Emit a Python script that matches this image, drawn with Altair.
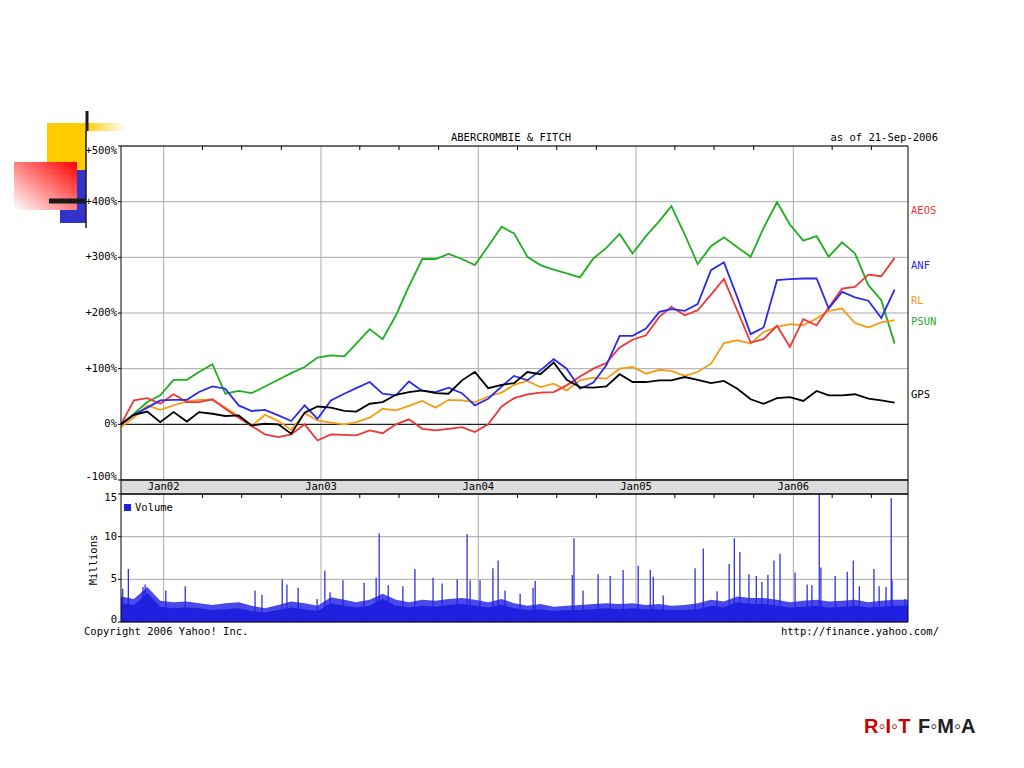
import altair as alt
import pandas as pd

MONO = "DejaVu Sans Mono"

# ---------------- data ----------------
line_dates = pd.date_range("2001-09-24", periods=60, freq=pd.DateOffset(months=1))
series_names = ["PSUN", "RL", "AEOS", "ANF", "GPS"]
series_colors = ["#1fae1f", "#f89c14", "#f03535", "#2b2bef", "#000000"]

psun = [0, 19, 40, 52, 80, 80, 94, 108, 55, 60, 56, 68, 80, 92, 103, 120, 124, 122, 145, 171,
        153, 196, 248, 297, 297, 306, 297, 286, 320, 355, 343, 301, 286, 278, 271, 264, 298, 317, 342, 307,
        338, 365, 392, 341, 288, 320, 336, 318, 301, 353, 399, 359, 330, 338, 301, 327, 307, 250, 223, 145]
rl = [-5, 12, 34, 26, 34, 41, 44, 44, 30, 14, -3, 17, 6, -10, 20, 7, 3, 0, 4, 12,
      28, 25, 33, 42, 30, 44, 43, 40, 50, 57, 71, 78, 67, 73, 61, 79, 84, 82, 100, 103,
      91, 98, 96, 87, 94, 109, 146, 151, 145, 166, 175, 180, 178, 190, 204, 208, 182, 174, 183, 187]
aeos = [0, 43, 47, 37, 54, 40, 40, 45, 28, 12, -3, -18, -23, -18, 0, -29, -18, -19, -20, -11,
        -16, 0, 9, -8, -11, -8, -5, -14, 0, 32, 47, 54, 57, 58, 70, 86, 100, 110, 138, 152,
        160, 193, 211, 196, 205, 233, 261, 204, 147, 153, 177, 139, 189, 178, 210, 244, 247, 269, 266, 299]
anf = [0, 17, 30, 43, 44, 44, 58, 68, 64, 34, 24, 26, 16, 6, 34, 10, 43, 55, 65, 76,
       55, 52, 77, 60, 58, 66, 56, 34, 46, 68, 87, 79, 97, 117, 100, 64, 75, 106, 159, 159,
       172, 202, 207, 204, 216, 277, 291, 228, 162, 174, 259, 261, 262, 262, 208, 238, 228, 222, 191, 242]
gps = [0, 17, 23, 4, 22, 5, 22, 19, 15, 16, -2, 1, 0, -17, 21, 32, 30, 24, 23, 37,
       40, 53, 58, 61, 56, 55, 79, 94, 65, 71, 74, 94, 90, 111, 80, 67, 66, 68, 90, 76,
       76, 79, 79, 85, 80, 74, 78, 64, 45, 37, 47, 49, 42, 60, 52, 52, 54, 46, 43, 39]
series_values = [psun, rl, aeos, anf, gps]

# volume (millions): monthly typical level, monthly typical high, and individual spikes
vol_dates = pd.date_range("2001-09-24", periods=61, freq=pd.DateOffset(months=1))
vol_base = [2.2, 2.0, 3.4, 1.8, 1.6, 1.7, 1.6, 1.4, 1.5, 1.6, 1.3, 1.1, 1.4, 1.7, 1.5, 1.3, 2.2, 1.9, 1.7, 1.9,
            2.7, 1.9, 1.7, 1.9, 1.8, 2.0, 2.1, 1.9, 1.7, 2.0, 1.6, 1.4, 1.5, 1.3, 1.4, 1.4, 1.5, 1.6, 1.5, 1.6,
            1.5, 1.5, 1.4, 1.4, 1.5, 1.9, 1.7, 2.3, 2.1, 2.1, 1.9, 1.7, 1.8, 1.9, 1.7, 1.8, 1.9, 1.7, 1.8, 1.9, 1.9]
vol_high = [3.0, 2.7, 4.1, 2.5, 2.3, 2.4, 2.2, 2.0, 2.2, 2.3, 1.9, 1.6, 2.0, 2.4, 2.2, 1.9, 2.9, 2.6, 2.3, 2.6,
            3.3, 2.6, 2.3, 2.6, 2.5, 2.7, 2.8, 2.6, 2.3, 2.7, 2.2, 1.9, 2.1, 1.8, 1.9, 2.0, 2.1, 2.2, 2.1, 2.2,
            2.0, 2.1, 1.9, 2.0, 2.2, 2.6, 2.4, 3.0, 2.8, 2.8, 2.6, 2.3, 2.5, 2.6, 2.4, 2.5, 2.6, 2.3, 2.5, 2.6, 2.6]
spike_dates = ["2001-09-28", "2001-10-11", "2001-11-14", "2001-11-19", "2002-01-06", "2002-02-20",
               "2002-08-01", "2002-08-17", "2002-10-03", "2002-10-14", "2002-11-09", "2002-12-23",
               "2003-01-10", "2003-01-22", "2003-02-21", "2003-04-11", "2003-05-09", "2003-05-16",
               "2003-06-06", "2003-07-10", "2003-08-07", "2003-09-18", "2003-10-09", "2003-11-13",
               "2003-12-06", "2003-12-13", "2004-01-05", "2004-02-04", "2004-02-16", "2004-03-03",
               "2004-04-07", "2004-05-07", "2004-05-12", "2004-08-06", "2004-08-10", "2004-08-31",
               "2004-10-05", "2004-11-02", "2004-12-02", "2005-01-06", "2005-02-03", "2005-02-10",
               "2005-03-05", "2005-05-18", "2005-06-06", "2005-07-08", "2005-08-05", "2005-08-17",
               "2005-08-30", "2005-09-20", "2005-10-07", "2005-10-20", "2005-11-03", "2005-11-17",
               "2005-12-01", "2006-01-05", "2006-02-02", "2006-02-13", "2006-03-02", "2006-03-06",
               "2006-04-08", "2006-05-06", "2006-05-20", "2006-06-03", "2006-07-07", "2006-07-19",
               "2006-08-04", "2006-08-16", "2006-08-18", "2006-09-17"]
spike_values = [3.9, 6.2, 4.1, 4.4, 3.7, 4.2,
                3.7, 3.2, 5.0, 4.4, 4.0, 2.7,
                6.0, 3.5, 4.9, 4.6, 5.2, 10.4,
                4.3, 4.2, 6.2, 5.2, 4.5, 5.0,
                10.3, 4.9, 4.9, 6.3, 7.2, 3.7,
                3.3, 4.0, 4.8, 5.5, 9.8, 3.7,
                5.6, 5.4, 6.1, 6.6, 6.1, 5.3,
                3.1, 6.3, 8.6, 3.6, 6.8, 9.8,
                8.2, 5.6, 5.4, 4.7, 5.5, 7.2,
                8.0, 5.8, 4.4, 4.3, 15.0, 6.4,
                5.4, 5.9, 7.2, 4.2, 6.2, 4.2,
                4.1, 14.5, 4.9, 2.7]

year_ticks = ["2002-01-01", "2003-01-01", "2004-01-01", "2005-01-01", "2006-01-01"]
year_labels = ["Jan02", "Jan03", "Jan04", "Jan05", "Jan06"]
quarter_ticks = ["2002-04-01", "2002-07-01", "2002-10-01", "2003-04-01", "2003-07-01", "2003-10-01",
                 "2004-04-01", "2004-07-01", "2004-10-01", "2005-04-01", "2005-07-01", "2005-10-01",
                 "2006-04-01", "2006-07-01"]
pct_ticks = [-100, 0, 100, 200, 300, 400, 500]
pct_labels = ["-100%", "0%", "+100%", "+200%", "+300%", "+400%", "+500%"]
vol_ticks = [0, 5, 10, 15]
vol_labels = ["0", "5", "10", "15"]

label_names = ["AEOS", "ANF", "RL", "PSUN", "GPS"]
label_colors = ["#f03535", "#2b2bef", "#f89c14", "#1fae1f", "#000000"]

# ---------------- tables ----------------
df_lines = pd.concat(
    [pd.DataFrame({"date": line_dates, "pct": v, "sym": n}) for n, v in zip(series_names, series_values)],
    ignore_index=True)
df_lines["ord"] = df_lines["sym"].map({n: i for i, n in enumerate(series_names)})
df_base = pd.DataFrame({"date": vol_dates, "vol": vol_base, "hi": vol_high})
df_spk = pd.DataFrame({"date": pd.to_datetime(spike_dates), "vol": spike_values})
df_years = pd.DataFrame({"date": pd.to_datetime(year_ticks), "label": year_labels})
df_q = pd.DataFrame({"date": pd.to_datetime(quarter_ticks)})
df_pct = pd.DataFrame({"v": pct_ticks, "label": pct_labels})
df_vt = pd.DataFrame({"v": vol_ticks, "label": vol_labels})
df_zero = pd.DataFrame({"z": [0]})
one = pd.DataFrame({"a": [0]})

W, H = 787, 476
VOLC = "#2020e0"
VOLL = "#4a4aea"
GRID = "#aaaaaa"

xscale = alt.Scale(domain=[alt.DateTime(year=2001, month=9, date=24),
                           alt.DateTime(year=2006, month=9, date=24)])
pscale = alt.Scale(domain=[-355.1, 500], nice=False, zero=False)
vscale = alt.Scale(domain=[0, 55.78], nice=False, zero=False)

X = lambda: alt.X("date:T", scale=xscale, axis=None)
txt_kw = dict(font=MONO, fontSize=10.5, baseline="middle")


def tick_labels(df, scale, lo, hi, dy_lo, dy_hi):
    base = alt.Chart(df).encode(y=alt.Y("v:Q", scale=scale, axis=None), x=alt.value(-4), text="label:N")
    mid = base.mark_text(align="right", color="black", **txt_kw).transform_filter(
        (alt.datum.v > lo) & (alt.datum.v < hi))
    top = base.mark_text(align="right", color="black", dy=dy_hi, **txt_kw).transform_filter(alt.datum.v == hi)
    bot = base.mark_text(align="right", color="black", dy=dy_lo, **txt_kw).transform_filter(alt.datum.v == lo)
    return [mid, top, bot]


# ---------------- vertical grid ----------------
vgrid = alt.Chart(df_years).mark_rule(color=GRID, strokeWidth=1).encode(
    x=X(), y=alt.value(0), y2=alt.value(H))

# ---------------- main panel ----------------
pgrid = alt.Chart(df_pct).mark_rule(color=GRID, strokeWidth=1).encode(
    y=alt.Y("v:Q", scale=pscale, axis=None))
ptick = alt.Chart(df_pct).mark_rule(color="black", strokeWidth=1).encode(
    y=alt.Y("v:Q", scale=pscale, axis=None), x=alt.value(-3), x2=alt.value(0))
lines = alt.Chart(df_lines).mark_line(strokeWidth=1.8).encode(
    x=X(),
    y=alt.Y("pct:Q", scale=pscale, axis=None),
    color=alt.Color("sym:N", scale=alt.Scale(domain=series_names, range=series_colors), legend=None),
    detail="ord:O",
)
zero_rule = alt.Chart(df_zero).mark_rule(color="black", strokeWidth=1).encode(
    y=alt.Y("z:Q", scale=pscale, axis=None))
main = alt.layer(pgrid, ptick, *tick_labels(df_pct, pscale, -100, 500, -3, 5), zero_rule, lines)

# ---------------- volume panel ----------------
vgrid_h = alt.Chart(df_vt).mark_rule(color=GRID, strokeWidth=1).encode(
    y=alt.Y("v:Q", scale=vscale, axis=None))
vtick = alt.Chart(df_vt).mark_rule(color="black", strokeWidth=1).encode(
    y=alt.Y("v:Q", scale=vscale, axis=None), x=alt.value(-3), x2=alt.value(0))
area_hi = alt.Chart(df_base).mark_area(color=VOLL, interpolate="linear").encode(
    x=X(), y=alt.Y("hi:Q", scale=vscale, axis=None))
area = alt.Chart(df_base).mark_area(color=VOLC, interpolate="linear").encode(
    x=X(), y=alt.Y("vol:Q", scale=vscale, axis=None))
spikes = alt.Chart(df_spk).mark_rule(color=VOLC, strokeWidth=1.2).encode(
    x=X(), y=alt.Y("vol:Q", scale=vscale, axis=None), y2=alt.datum(0))
vol = alt.layer(vgrid_h, vtick, *tick_labels(df_vt, vscale, 0, 15, -2, 4), area_hi, area, spikes)

# ---------------- frames, labels, decorations ----------------
def rect(x, x2, y, y2, **kw):
    return alt.Chart(one).mark_rect(**kw).encode(
        x=alt.value(x), x2=alt.value(x2), y=alt.value(y), y2=alt.value(y2))


def text(x, y, s, **kw):
    return alt.Chart(one).mark_text(**kw).encode(x=alt.value(x), y=alt.value(y), text=alt.value(s))


main_frame = rect(0, W, 0, 334, fillOpacity=0, stroke="black", strokeWidth=1)
band = rect(0, W, 334, 348, fill="#dcdcdc", stroke="black", strokeWidth=1)
vol_frame = rect(0, W, 348, H, fillOpacity=0, stroke="black", strokeWidth=1)

year_text = alt.Chart(df_years).mark_text(align="center", color="black", **txt_kw).encode(
    x=X(), y=alt.value(341), text="label:N")
qt_top = alt.Chart(df_q).mark_rule(color="black").encode(x=X(), y=alt.value(0), y2=alt.value(4))
qt_vol = alt.Chart(df_q).mark_rule(color="black").encode(x=X(), y=alt.value(348), y2=alt.value(352))

title = text(390, -8, "ABERCROMBIE & FITCH", align="center", color="black", **txt_kw)
asof = text(817, -8, "as of 21-Sep-2006", align="right", color="black", **txt_kw)
copy = text(-37, 486, "Copyright 2006 Yahoo! Inc.", align="left", color="black", **txt_kw)
url = text(818, 486, "http://finance.yahoo.com/", align="right", color="black", **txt_kw)
millions = text(-27, 414, "Millions", align="center", angle=270, color="black", **txt_kw)
label_y = [65, 120, 155, 176, 249]
sym_labels = [text(790, yy, n, align="left", color=c, **txt_kw)
              for n, c, yy in zip(label_names, label_colors, label_y)]
vol_sq = rect(3, 10, 358, 365, fill=VOLC)
vol_txt = text(14, 362, "Volume", align="left", color="black", **txt_kw)

yellow_grad = alt.LinearGradient(gradient="linear", x1=0, y1=0, x2=1, y2=0,
                                 stops=[alt.GradientStop(color="#ffcc00", offset=0),
                                        alt.GradientStop(color="#ffffff", offset=1)])
red_grad = alt.LinearGradient(gradient="linear", x1=1, y1=0, x2=0, y2=1,
                              stops=[alt.GradientStop(color="#ff0000", offset=0),
                                     alt.GradientStop(color="#ffffff", offset=1)])
deco = [
    rect(-74, -35, -23, 24, fill="#ffcc00"),
    rect(-35, 4, -23, -15, fill=yellow_grad),
    rect(-61, -35, 24, 77, fill="#3333cc"),
    rect(-107, -44, 16, 64, fill=red_grad),
    alt.Chart(one).mark_rule(color="#1a1a1a", strokeWidth=3).encode(
        x=alt.value(-34), y=alt.value(-35), y2=alt.value(-15)),
    alt.Chart(one).mark_rule(color="#1a1a1a", strokeWidth=1.5).encode(
        x=alt.value(-35), y=alt.value(-15), y2=alt.value(82)),
    alt.Chart(one).mark_rule(color="#1a1a1a", strokeWidth=5).encode(
        x=alt.value(-72), x2=alt.value(-35), y=alt.value(55)),
]
logo = [
    text(743, 581, "R◦I◦T", align="left", baseline="middle", font="Liberation Sans",
         fontSize=20, fontWeight="bold", color="#cc0000"),
    text(797, 581, "F◦M◦A", align="left", baseline="middle", font="Liberation Sans",
         fontSize=20, fontWeight="bold", color="#222222"),
]

chart = alt.layer(
    vgrid, vol, main, band, year_text, qt_top, qt_vol, main_frame, vol_frame,
    title, asof, copy, url, millions, *sym_labels, vol_sq, vol_txt, *deco, *logo,
).resolve_scale(y="independent").properties(
    width=W, height=H,
    autosize=alt.AutoSizeParams(type="none"),
    padding={"left": 113, "top": 138, "right": 100, "bottom": 125},
    background="white",
).configure_view(stroke=None)

chart.save("out.html", embed_options={"renderer": "svg", "actions": False})
